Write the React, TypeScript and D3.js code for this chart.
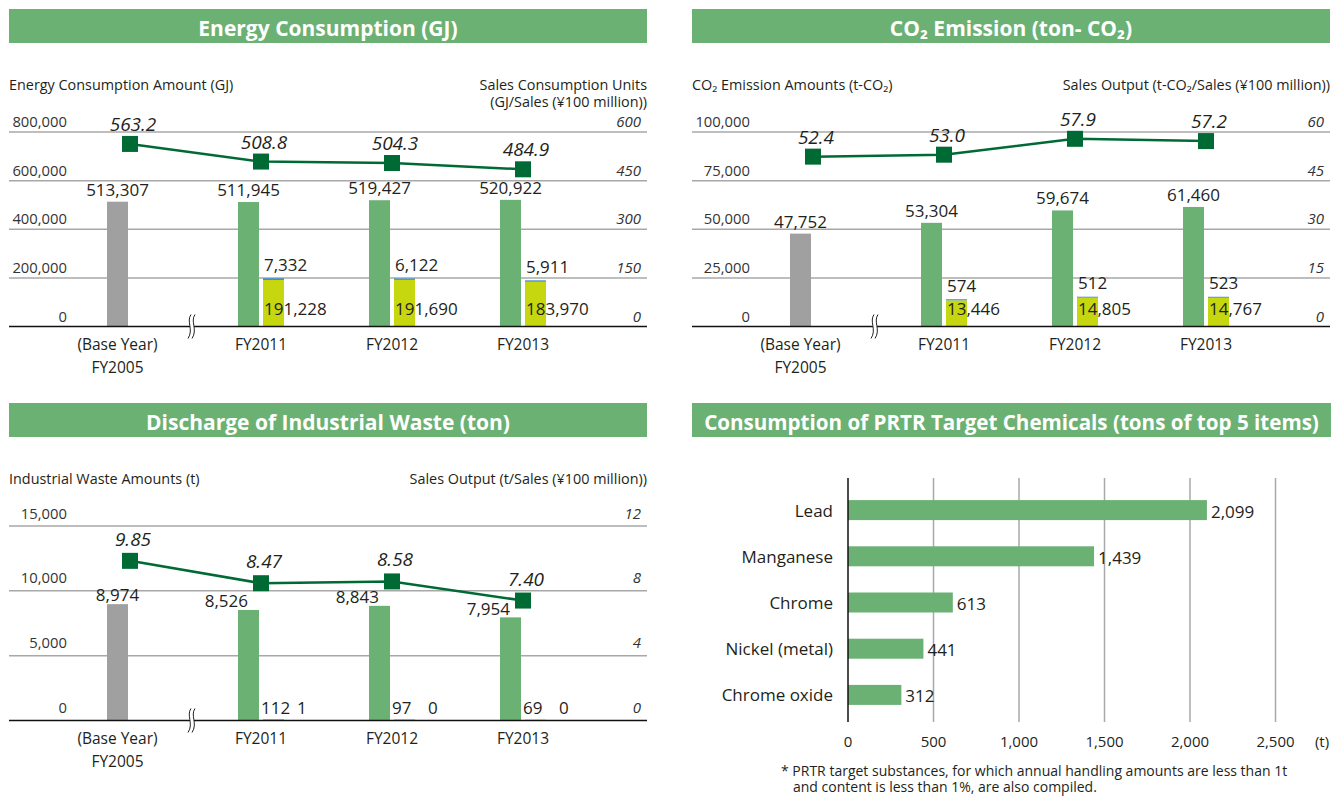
import React from "react";
import * as d3 from "d3";

// ---------- data ----------
const years = ["FY2005", "FY2011", "FY2012", "FY2013"];

const energyTotal = [513307, 511945, 519427, 520922];
const energyPart = [0, 191228, 191690, 183970];
const energySmall = [0, 7332, 6122, 5911];
const energyUnit = [563.2, 508.8, 504.3, 484.9];
const energyLeftTicks = [0, 200000, 400000, 600000, 800000];
const energyRightTicks = [0, 150, 300, 450, 600];

const co2Total = [47752, 53304, 59674, 61460];
const co2Part = [0, 13446, 14805, 14767];
const co2Small = [0, 574, 512, 523];
const co2Unit = [52.4, 53.0, 57.9, 57.2];
const co2LeftTicks = [0, 25000, 50000, 75000, 100000];
const co2RightTicks = [0, 15, 30, 45, 60];

const wasteTotal = [8974, 8526, 8843, 7954];
const wastePart = [0, 112, 97, 69];
const wasteSmall = [0, 1, 0, 0];
const wasteUnit = [9.85, 8.47, 8.58, 7.4];
const wasteLeftTicks = [0, 5000, 10000, 15000];
const wasteRightTicks = [0, 4, 8, 12];

const prtrItems = ["Lead", "Manganese", "Chrome", "Nickel (metal)", "Chrome oxide"];
const prtrValues = [2099, 1439, 613, 441, 312];
const prtrTicks = [0, 500, 1000, 1500, 2000, 2500];

// ---------- style ----------
const FONT = "'Open Sans', 'Noto Sans', sans-serif";
const GREEN = "#6cb174";
const GRAY = "#a0a0a0";
const YELLOW = "#c6d60f";
const BLUE = "#3f8fd4";
const DARK = "#006a35";
const TEXT = "#231f20";
const GRID = "#a8a8a8";

const fmtInt = d3.format(",");

type ComboProps = {
  px: number;
  py: number;
  title: React.ReactNode;
  leftTitle: React.ReactNode;
  rightTitle: React.ReactNode[];
  leftTicks: number[];
  rightTicks: number[];
  totals: number[];
  part: number[];
  small: number[];
  unit: number[];
  unitFmt: (v: number) => string;
  waste?: boolean;
};

function Combo(p: ComboProps) {
  const W = 638;
  const base = p.py + 317.5;
  const top = p.py + 123;
  const yL = d3.scaleLinear().domain([0, d3.max(p.leftTicks)!]).range([base, top]);
  const yR = d3.scaleLinear().domain([0, d3.max(p.rightTicks)!]).range([base, top]);
  const x = d3.scaleBand<string>().domain(years).range([p.px + 55.5, p.px + 579.5]);
  const cx = (d: string) => x(d)! + x.bandwidth() / 2;
  const bw = 21;
  const line = d3
    .line<number>()
    .x((_, i) => cx(years[i]))
    .y((v) => yR(v));
  const breakX = p.px + 181;
  const xLabelX = (i: number) => (i === 0 ? cx(years[i]) - 23 + bw / 2 : cx(years[i]));
  const VF = 17;
  const tickOff = p.waste ? 13.5 : 11;
  return (
    <g fontFamily={FONT}>
      <rect x={p.px} y={p.py} width={W} height={34} fill={GREEN} />
      <text x={p.px + W / 2} y={p.py + 18.5} textAnchor="middle" dominantBaseline="central" fill="#fff" fontWeight="bold" fontSize={21}>
        {p.title}
      </text>
      <text x={p.px} y={p.py + 75} dominantBaseline="central" fontSize={14.4} fill={TEXT}>
        {p.leftTitle}
      </text>
      {p.rightTitle.map((t, i) => (
        <text key={i} x={p.px + W} y={p.py + 75 + i * 17} dominantBaseline="central" textAnchor="end" fontSize={14.4} fill={TEXT}>
          {t}
        </text>
      ))}
      {p.leftTicks.map((t, i) => (
        <g key={i}>
          {t !== 0 && <line x1={p.px} x2={p.px + W} y1={yL(t)} y2={yL(t)} stroke={GRID} strokeWidth={1.5} />}
          <text x={p.px + 58} y={yL(t) - tickOff} textAnchor="end" dominantBaseline="central" fontSize={14.8} fill="#333">
            {fmtInt(t)}
          </text>
          <text x={p.px + 632} y={yR(p.rightTicks[i]) - tickOff} textAnchor="end" dominantBaseline="central" fontSize={15} fontStyle="italic" fill="#333">
            {p.rightTicks[i]}
          </text>
        </g>
      ))}
      {/* bars */}
      {years.map((d, i) => {
        const c = cx(d);
        const b1 = c - 23;
        const b2 = c + 2;
        const yTop = yL(p.totals[i]);
        const partTop = yL(p.part[i]);
        const smallTop = yL(p.part[i] + p.small[i]);
        return (
          <g key={d}>
            <rect x={b1} y={yTop} width={bw} height={base - yTop} fill={i === 0 ? GRAY : GREEN} />
            {i > 0 && <rect x={b2} y={partTop} width={bw} height={base - partTop} fill={YELLOW} />}
            {i > 0 && <rect x={b2} y={smallTop} width={bw} height={partTop - smallTop} fill={BLUE} />}
            {!p.waste || i === 0 ? (
              <text x={b1 + bw / 2} y={yTop - (p.waste ? 10 : 12.5)} textAnchor="middle" dominantBaseline="central" fontSize={VF} fill={TEXT}>
                {fmtInt(p.totals[i])}
              </text>
            ) : (
              <text x={b1 + bw - 11} y={yTop - 9} textAnchor="end" dominantBaseline="central" fontSize={VF} fill={TEXT}>
                {fmtInt(p.totals[i])}
              </text>
            )}
            {i > 0 && !p.waste && (
              <>
                <text x={b2 + 1} y={smallTop - 14} dominantBaseline="central" fontSize={VF} fill={TEXT}>
                  {fmtInt(p.small[i])}
                </text>
                <text x={b2 + 1} y={base - 18.5} dominantBaseline="central" fontSize={VF} fill={TEXT}>
                  {fmtInt(p.part[i])}
                </text>
              </>
            )}
            {i > 0 && p.waste && (
              <>
                <text x={b2 - 2} y={base - 13} dominantBaseline="central" fontSize={VF} fill={TEXT}>
                  {fmtInt(p.part[i])}
                </text>
                <text x={b2 + 34} y={base - 13} dominantBaseline="central" fontSize={VF} fill={TEXT}>
                  {fmtInt(p.small[i])}
                </text>
              </>
            )}
          </g>
        );
      })}
      {/* baseline */}
      <line x1={p.px} x2={p.px + W} y1={base} y2={base} stroke="#111" strokeWidth={1.5} />
      {/* axis break */}
      <path
        d={`M${breakX + 1},${base - 12} C${breakX - 4},${base - 5} ${breakX + 4},${base + 3} ${breakX - 2},${base + 12} L${breakX + 2},${base + 12} C${breakX + 8},${base + 3} ${breakX},${base - 5} ${breakX + 5},${base - 12} Z`}
        fill="#fff"
        stroke="none"
      />
      <path d={`M${breakX + 1},${base - 12} C${breakX - 4},${base - 5} ${breakX + 4},${base + 3} ${breakX - 2},${base + 12}`} fill="none" stroke="#222" strokeWidth={1} />
      <path d={`M${breakX + 5},${base - 12} C${breakX},${base - 5} ${breakX + 8},${base + 3} ${breakX + 2},${base + 12}`} fill="none" stroke="#222" strokeWidth={1} />
      {/* x labels */}
      {years.map((d, i) => (
        <g key={"xl" + d}>
          {i === 0 && (
            <text x={xLabelX(i)} y={base + 17.5} textAnchor="middle" dominantBaseline="central" fontSize={15.5} fill={TEXT}>
              (Base Year)
            </text>
          )}
          <text x={xLabelX(i)} y={base + (i === 0 ? 40 : 17.5)} textAnchor="middle" dominantBaseline="central" fontSize={15.5} fill={TEXT}>
            {d}
          </text>
        </g>
      ))}
      {/* line */}
      <path d={line(p.unit)!} fill="none" stroke={DARK} strokeWidth={2.5} />
      {p.unit.map((v, i) => (
        <g key={"u" + i}>
          <rect x={cx(years[i]) - 8} y={yR(v) - 8} width={16} height={16} fill={DARK} />
          <text x={cx(years[i]) + 3} y={yR(v) - (p.waste ? 22 : 20)} textAnchor="middle" dominantBaseline="central" fontSize={19} fontStyle="italic" fill={TEXT}>
            {p.unitFmt(v)}
          </text>
        </g>
      ))}
    </g>
  );
}

function Prtr() {
  const px = 692;
  const py = 403;
  const x = d3.scaleLinear().domain([0, 2500]).range([848, 1275.5]);
  const y = d3.scaleBand<string>().domain(prtrItems).range([487, 718]);
  const bh = 20;
  return (
    <g fontFamily={FONT}>
      <rect x={px} y={py} width={639} height={34} fill={GREEN} />
      <text x={px + 319.5} y={py + 18.5} textAnchor="middle" dominantBaseline="central" fill="#fff" fontWeight="bold" fontSize={20.6}>
        Consumption of PRTR Target Chemicals (tons of top 5 items)
      </text>
      {prtrTicks.map((t) => (
        <g key={t}>
          {t !== 0 && <line x1={x(t)} x2={x(t)} y1={478} y2={722} stroke={GRID} strokeWidth={1.5} />}
          <text x={x(t)} y={741} textAnchor="middle" dominantBaseline="central" fontSize={15} fill={TEXT}>
            {fmtInt(t)}
          </text>
        </g>
      ))}
      <text x={1322} y={741} textAnchor="middle" dominantBaseline="central" fontSize={15} fill={TEXT}>
        (t)
      </text>
      {prtrItems.map((d, i) => {
        const yc = y(d)! + y.bandwidth() / 2;
        return (
          <g key={d}>
            <rect x={x(0)} y={yc - bh / 2} width={x(prtrValues[i]) - x(0)} height={bh} fill={GREEN} />
            <text x={833} y={yc} textAnchor="end" dominantBaseline="central" fontSize={17} fill={TEXT}>
              {d}
            </text>
            <text x={x(prtrValues[i]) + 4} y={yc + 1} dominantBaseline="central" fontSize={17} fill={TEXT}>
              {fmtInt(prtrValues[i])}
            </text>
          </g>
        );
      })}
      <line x1={x(0)} x2={x(0)} y1={478} y2={722} stroke="#111" strokeWidth={1.5} />
      <text x={781} y={770} dominantBaseline="central" fontSize={14} fill={TEXT}>
        * PRTR target substances, for which annual handling amounts are less than 1t
      </text>
      <text x={793} y={786.5} dominantBaseline="central" fontSize={14} fill={TEXT}>
        and content is less than 1%, are also compiled.
      </text>
    </g>
  );
}

export default function App() {
  return (
    <svg width={1343} height={796} style={{ position: "absolute", left: 0, top: 0, background: "#fff" }}>
      <rect width={1343} height={796} fill="#fff" />
      <Combo
        px={9}
        py={9}
        title="Energy Consumption (GJ)"
        leftTitle="Energy Consumption Amount (GJ)"
        rightTitle={["Sales Consumption Units", "(GJ/Sales (¥100 million))"]}
        leftTicks={energyLeftTicks}
        rightTicks={energyRightTicks}
        totals={energyTotal}
        part={energyPart}
        small={energySmall}
        unit={energyUnit}
        unitFmt={d3.format(".1f")}
      />
      <Combo
        px={692}
        py={9}
        title="CO₂ Emission (ton- CO₂)"
        leftTitle="CO₂ Emission Amounts (t-CO₂)"
        rightTitle={["Sales Output (t-CO₂/Sales (¥100 million))"]}
        leftTicks={co2LeftTicks}
        rightTicks={co2RightTicks}
        totals={co2Total}
        part={co2Part}
        small={co2Small}
        unit={co2Unit}
        unitFmt={d3.format(".1f")}
      />
      <Combo
        px={9}
        py={403}
        title="Discharge of Industrial Waste (ton)"
        leftTitle="Industrial Waste Amounts (t)"
        rightTitle={["Sales Output (t/Sales (¥100 million))"]}
        leftTicks={wasteLeftTicks}
        rightTicks={wasteRightTicks}
        totals={wasteTotal}
        part={wastePart}
        small={wasteSmall}
        unit={wasteUnit}
        unitFmt={d3.format(".2f")}
        waste
      />
      <Prtr />
    </svg>
  );
}
